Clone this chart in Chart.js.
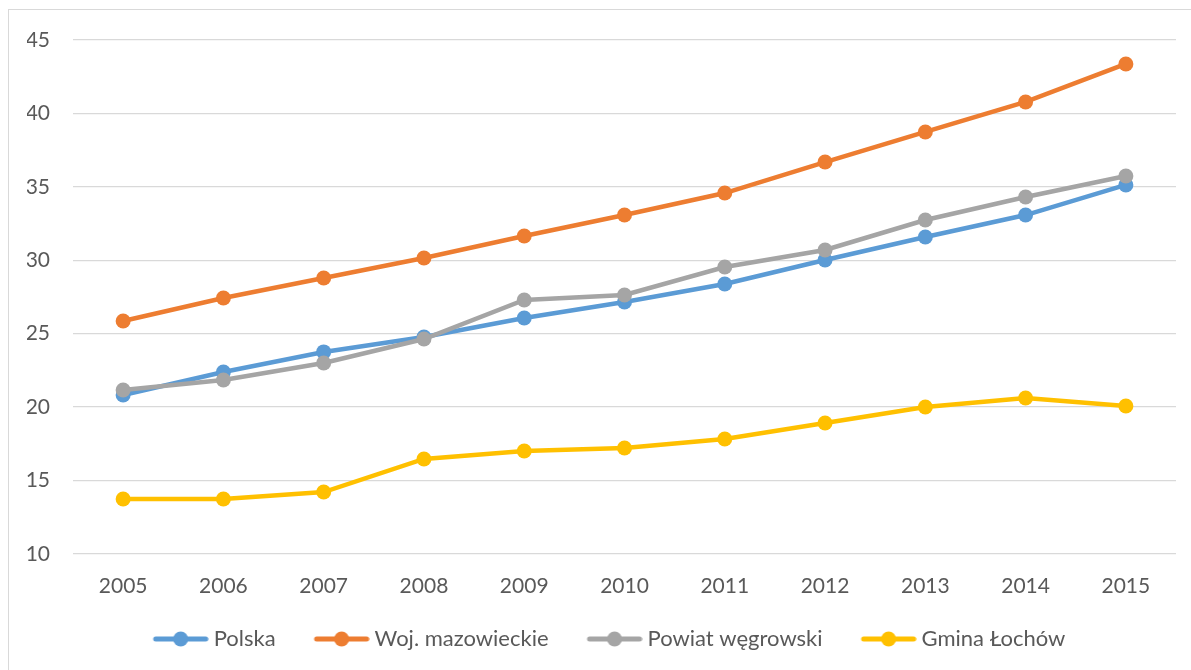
<!DOCTYPE html>
<html>
<head>
<meta charset="utf-8">
<script src="https://cdn.jsdelivr.net/npm/chart.js@4"></script>
<style>
  html, body { margin: 0; padding: 0; background: #fff; overflow: hidden; }
  #wrap { position: relative; width: 1191px; height: 670px; }
  #frame { position: absolute; left: 8px; top: 9px; width: 1200px; height: 700px; border: 1.5px solid #d9d9d9; }
  canvas { position: absolute; left: 0; top: 0; }
</style>
</head>
<body>
<div id="wrap">
  <div id="frame"></div>
  <canvas id="chart" width="1191" height="670"></canvas>
</div>
<script>
const years = ['2005', '2006', '2007', '2008', '2009', '2010', '2011', '2012', '2013', '2014', '2015'];
const polska = [20.83, 22.39, 23.76, 24.78, 26.07, 27.16, 28.39, 30.02, 31.59, 33.08, 35.13];
const mazowieckie = [25.87, 27.43, 28.79, 30.16, 31.65, 33.08, 34.58, 36.69, 38.74, 40.78, 43.37];
const wegrowski = [21.17, 21.85, 23.01, 24.64, 27.30, 27.64, 29.54, 30.70, 32.74, 34.31, 35.74];
const lochow = [13.75, 13.75, 14.22, 16.47, 17.01, 17.22, 17.83, 18.92, 20.01, 20.62, 20.08];
const yTicks = [10, 15, 20, 25, 30, 35, 40, 45];

const seriesNames = ['Polska', 'Woj. mazowieckie', 'Powiat węgrowski', 'Gmina Łochów'];
const seriesColors = ['#5B9BD5', '#ED7D31', '#A5A5A5', '#FFC000'];
const seriesData = [polska, mazowieckie, wegrowski, lochow];

// legend marker: short line with a dot; transparent strip on the left
// so the visible part sits close to its label
const markerLead = 21;
function legendMarker(color) {
    const c = document.createElement('canvas');
    c.width = 56 + markerLead;
    c.height = 16;
    const g = c.getContext('2d');
    g.strokeStyle = color;
    g.lineWidth = 5;
    g.lineCap = 'round';
    g.beginPath();
    g.moveTo(markerLead + 3, 8);
    g.lineTo(markerLead + 53, 8);
    g.stroke();
    g.fillStyle = color;
    g.beginPath();
    g.arc(markerLead + 28, 8, 7.5, 0, Math.PI * 2);
    g.fill();
    return c;
}

const markers = seriesColors.map(legendMarker);
const textColor = '#595959';
const fontFamily = 'Lato, "Open Sans", sans-serif';

new Chart(document.getElementById('chart'), {
    type: 'line',
    data: {
        labels: years,
        datasets: seriesData.map((d, i) => ({
            label: seriesNames[i],
            data: d,
            borderColor: seriesColors[i],
            backgroundColor: seriesColors[i],
            pointBackgroundColor: seriesColors[i],
            pointBorderColor: seriesColors[i],
            borderWidth: 4.5,
            pointRadius: 7.5,
            pointBorderWidth: 0,
            tension: 0,
            order: seriesData.length - i
        }))
    },
    options: {
        responsive: false,
        animation: false,
        devicePixelRatio: 1,
        layout: { padding: { left: 27, right: 15, top: 40, bottom: 10 } },
        scales: {
            x: {
                offset: true,
                grid: { display: false, drawTicks: false },
                border: { display: false },
                ticks: { color: textColor, font: { family: fontFamily, size: 21 }, padding: 20, maxRotation: 0 },
                afterFit: (axis) => { axis.height = 51; }
            },
            y: {
                min: 10,
                max: 45,
                afterBuildTicks: (axis) => { axis.ticks = yTicks.map(v => ({ value: v })); },
                grid: { color: '#d9d9d9', lineWidth: 1.3, drawTicks: false },
                border: { display: false },
                ticks: { color: textColor, font: { family: fontFamily, size: 21 }, padding: 23 },
                afterFit: (axis) => { axis.width = 46; }
            }
        },
        plugins: {
            tooltip: { enabled: false },
            legend: {
                position: 'bottom',
                labels: {
                    color: textColor,
                    font: { family: fontFamily, size: 22 },
                    usePointStyle: true,
                    pointStyleWidth: 65,
                    padding: 23,
                    sort: (a, b) => a.datasetIndex - b.datasetIndex,
                    generateLabels: (chart) => {
                        const items = Chart.defaults.plugins.legend.labels.generateLabels(chart);
                        items.forEach(it => { it.pointStyle = markers[it.datasetIndex]; });
                        return items;
                    }
                }
            }
        }
    }
});
</script>
</body>
</html>
